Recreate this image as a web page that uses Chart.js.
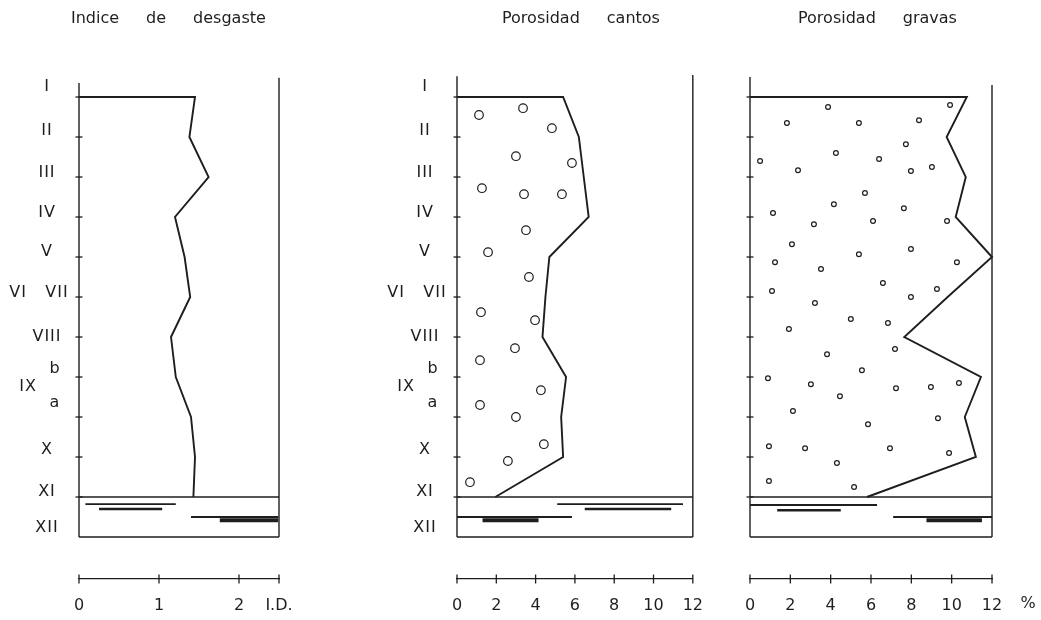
<!DOCTYPE html>
<html lang="es">
<head>
<meta charset="utf-8">
<title>Indice de desgaste y porosidad</title>
<script src="https://cdn.jsdelivr.net/npm/chart.js@4.4.1/dist/chart.umd.min.js"></script>
<style>
  html, body { margin: 0; padding: 0; background: #fff; }
  #lamina { position: relative; width: 1041px; height: 620px; overflow: hidden; background: #fff; }
  #lamina canvas { position: absolute; top: 0; }
</style>
</head>
<body>
<div id="lamina">
  <canvas id="desgaste" width="330" height="620" style="left:0px"></canvas>
  <canvas id="cantos" width="390" height="620" style="left:330px"></canvas>
  <canvas id="gravas" width="321" height="620" style="left:720px"></canvas>
</div>
<script>
// niveles de la columna: 0 = techo del nivel I ... 10 = base del nivel XI
const niveles = [0, 1, 2, 3, 4, 5, 6, 7, 8, 9, 10];
const estratos = ['I', 'II', 'III', 'IV', 'V', 'VI   VII', 'VIII', 'b', 'IX', 'a', 'X', 'XI', 'XII'];
const estratosProf = [-0.25, 0.85, 1.9, 2.9, 3.88, 4.9, 6.0, 6.8, 7.25, 7.65, 8.83, 9.87, 10.78];

const tituloDesgaste = ['Indice', 'de', 'desgaste'];
const tituloCantos = ['Porosidad', 'cantos'];
const tituloGravas = ['Porosidad', 'gravas'];

// valores medidos en cada nivel
const desgaste = [1.45, 1.38, 1.62, 1.2, 1.32, 1.39, 1.15, 1.21, 1.4, 1.45, 1.43];
const porosidadCantos = [5.4, 6.2, 6.45, 6.7, 4.7, 4.5, 4.35, 5.55, 5.3, 5.4, 1.95];
const porosidadGravas = [10.75, 9.75, 10.7, 10.2, 12.0, 9.8, 7.65, 11.45, 10.65, 11.2, 5.8];

// tramado de huecos (cantos)
const cantosX = [1.12, 3.36, 4.83, 3.0, 5.85, 1.27, 3.41, 5.34, 3.51, 1.58, 3.66, 1.22, 3.97, 2.95,
                 1.17, 4.27, 1.17, 3.0, 4.42, 2.59, 0.66];
const cantosProf = [0.45, 0.28, 0.78, 1.48, 1.65, 2.28, 2.43, 2.43, 3.33, 3.88, 4.5, 5.38, 5.58, 6.28,
                    6.58, 7.33, 7.7, 8.0, 8.68, 9.1, 9.63];

// tramado de huecos (gravas)
const gravasX = [3.87, 9.92, 1.83, 5.4, 8.38, 7.73, 4.26, 6.4, 0.5, 2.38, 7.98, 9.02, 5.7, 4.16, 7.63,
                 1.14, 3.17, 6.1, 9.77, 2.08, 5.4, 7.98, 1.24, 3.52, 10.26, 6.59, 1.09, 9.27, 7.98, 3.22,
                 5.0, 6.84, 1.93, 3.82, 7.19, 5.55, 0.89, 3.02, 7.24, 8.97, 10.36, 4.46, 2.13, 5.85, 9.32,
                 0.94, 2.73, 6.94, 9.87, 4.31, 0.94, 5.16];
const gravasProf = [0.25, 0.2, 0.65, 0.65, 0.58, 1.18, 1.4, 1.55, 1.6, 1.83, 1.85, 1.75, 2.4, 2.68, 2.78,
                    2.9, 3.18, 3.1, 3.1, 3.68, 3.93, 3.8, 4.13, 4.3, 4.13, 4.65, 4.85, 4.8, 5.0, 5.15,
                    5.55, 5.65, 5.8, 6.43, 6.3, 6.83, 7.03, 7.18, 7.28, 7.25, 7.15, 7.48, 7.85, 8.18, 8.03,
                    8.73, 8.78, 8.78, 8.9, 9.15, 9.6, 9.75];

// nivel XII: intervalos [desde, hasta, profundidad]
const desgasteXII = [[0.08, 1.21, 10.18], [0.25, 1.04, 10.3], [1.4, 2.49, 10.5], [1.76, 2.49, 10.58]];
const cantosXII = [[5.1, 11.5, 10.18], [6.5, 10.9, 10.3], [0, 5.85, 10.5], [1.3, 4.15, 10.58]];
const gravasXII = [[0, 6.3, 10.2], [1.35, 4.5, 10.33], [7.1, 12, 10.5], [8.75, 11.5, 10.58]];

const ticksDesgaste = [0, 1, 2, 2.5];
const etiquetasDesgaste = ['0', '1', '2', 'I.D.'];
const ticksPorosidad = [0, 2, 4, 6, 8, 10, 12];
const etiquetasPorosidad = ['0', '2', '4', '6', '8', '10', '12'];

const TINTA = '#1e1e1e';
const FUENTE = '"DejaVu Sans", sans-serif';
const Y_ESCALA = 12.05;   // altura de la escala inferior
const BASE_XII = 11;

// desplazamiento horizontal de algunos rótulos de nivel
const ajusteRotulo = { 'VI   VII': -8, 'IX': -19, 'b': 8, 'a': 8 };

const rotulos = {
  id: 'rotulos',
  afterDraw(chart, args, o) {
    const { ctx, chartArea, scales } = chart;
    ctx.save();
    ctx.fillStyle = TINTA;
    ctx.font = '16px ' + FUENTE;
    ctx.textAlign = 'left';
    ctx.textBaseline = 'middle';
    let x = chartArea.left + o.tituloX;
    o.titulo.forEach(p => {
      ctx.fillText(p, x, 19);
      x += ctx.measureText(p).width + 27;
    });
    if (o.estratos) {
      ctx.textAlign = 'center';
      try { ctx.letterSpacing = '1px'; } catch (e) {}
      estratos.forEach((t, i) => {
        const dx = ajusteRotulo[t] || 0;
        ctx.fillText(t, chartArea.left - 32 + dx, scales.y.getPixelForValue(estratosProf[i]));
      });
    }
    if (o.unidad) {
      ctx.textAlign = 'center';
      ctx.textBaseline = 'top';
      ctx.fillText(o.unidad, chartArea.right + 36, scales.x.top + 17);
    }
    ctx.restore();
  }
};

function linea(puntos, ancho) {
  return {
    data: puntos, showLine: true, borderColor: TINTA, borderWidth: ancho,
    pointRadius: 0, fill: false, tension: 0, clip: false
  };
}

function columna(id, cfg) {
  const xmax = cfg.max;
  const datasets = [];

  // perfil: techo del nivel I y curva de valores
  const perfil = [{ x: 0, y: niveles[0] }].concat(cfg.valores.map((v, i) => ({ x: v, y: niveles[i] })));
  datasets.push(linea(perfil, 1.9));

  // marco de la columna
  datasets.push(linea([{ x: 0, y: 10 }, { x: xmax, y: 10 }], 1.3));
  datasets.push(linea([{ x: 0, y: BASE_XII }, { x: xmax, y: BASE_XII }], 1.3));
  datasets.push(linea([{ x: 0, y: cfg.techoIzq }, { x: 0, y: BASE_XII }], 1.4));
  datasets.push(linea([{ x: xmax, y: cfg.techoDer }, { x: xmax, y: BASE_XII }], 1.4));

  // marcas de nivel sobre el eje izquierdo
  datasets.push({
    data: niveles.map(n => ({ x: 0, y: n })), showLine: false, pointStyle: 'line',
    pointRadius: 3.5, pointBorderWidth: 1.3, borderColor: TINTA, clip: false
  });

  // marcas de la escala inferior
  datasets.push({
    data: cfg.ticks.map(t => ({ x: t, y: Y_ESCALA })), showLine: false, pointStyle: 'line',
    pointRotation: 90, pointRadius: 4.5, pointBorderWidth: 1.3, borderColor: TINTA, clip: false
  });

  // huecos
  if (cfg.huecosX) {
    datasets.push({
      data: cfg.huecosX.map((x, i) => ({ x: x, y: cfg.huecosProf[i] })), showLine: false,
      pointStyle: 'circle', pointRadius: cfg.radio, pointBorderWidth: 1.2,
      borderColor: TINTA, backgroundColor: '#fff', pointBackgroundColor: '#fff', clip: false
    });
  }

  // nivel XII
  const anchos = [1.8, 2.6, 1.8, 4];
  cfg.xii.forEach((r, i) => datasets.push(linea([{ x: r[0], y: r[2] }, { x: r[1], y: r[2] }], anchos[i])));

  return new Chart(document.getElementById(id), {
    type: 'scatter',
    data: { datasets: datasets },
    options: {
      responsive: false,
      animation: false,
      events: [],
      layout: { padding: { left: cfg.izq, right: cfg.der, top: 77, bottom: 0 } },
      plugins: {
        legend: { display: false },
        tooltip: { enabled: false },
        rotulos: { titulo: cfg.titulo, tituloX: cfg.tituloX, estratos: cfg.estratos, unidad: cfg.unidad }
      },
      scales: {
        x: {
          type: 'linear', position: 'bottom', min: 0, max: xmax,
          afterBuildTicks: s => { s.ticks = cfg.ticks.map(v => ({ value: v })); },
          afterFit: s => { s.height = 41; },
          grid: { display: false, drawTicks: false },
          border: { display: true, color: TINTA, width: 1.3 },
          ticks: {
            padding: 17, color: TINTA, autoSkip: false, maxRotation: 0,
            font: { family: FUENTE, size: 16 },
            callback: (v, i) => cfg.etiquetas[i]
          }
        },
        y: { type: 'linear', reverse: true, min: -0.5, max: Y_ESCALA, display: false }
      }
    },
    plugins: [rotulos]
  });
}

columna('desgaste', {
  max: 2.5, valores: desgaste, ticks: ticksDesgaste, etiquetas: etiquetasDesgaste,
  xii: desgasteXII, izq: 79, der: 51, techoIzq: -0.35, techoDer: -0.48,
  titulo: tituloDesgaste, tituloX: -8, estratos: true
});

columna('cantos', {
  max: 12, valores: porosidadCantos, ticks: ticksPorosidad, etiquetas: etiquetasPorosidad,
  xii: cantosXII, izq: 127, der: 27, techoIzq: -0.52, techoDer: -0.55,
  huecosX: cantosX, huecosProf: cantosProf, radio: 4.3,
  titulo: tituloCantos, tituloX: 45, estratos: true
});

columna('gravas', {
  max: 12, valores: porosidadGravas, ticks: ticksPorosidad, etiquetas: etiquetasPorosidad,
  xii: gravasXII, izq: 30, der: 49, techoIzq: -0.5, techoDer: -0.3,
  huecosX: gravasX, huecosProf: gravasProf, radio: 2.4,
  titulo: tituloGravas, tituloX: 48, estratos: false, unidad: '%'
});
</script>
</body>
</html>
